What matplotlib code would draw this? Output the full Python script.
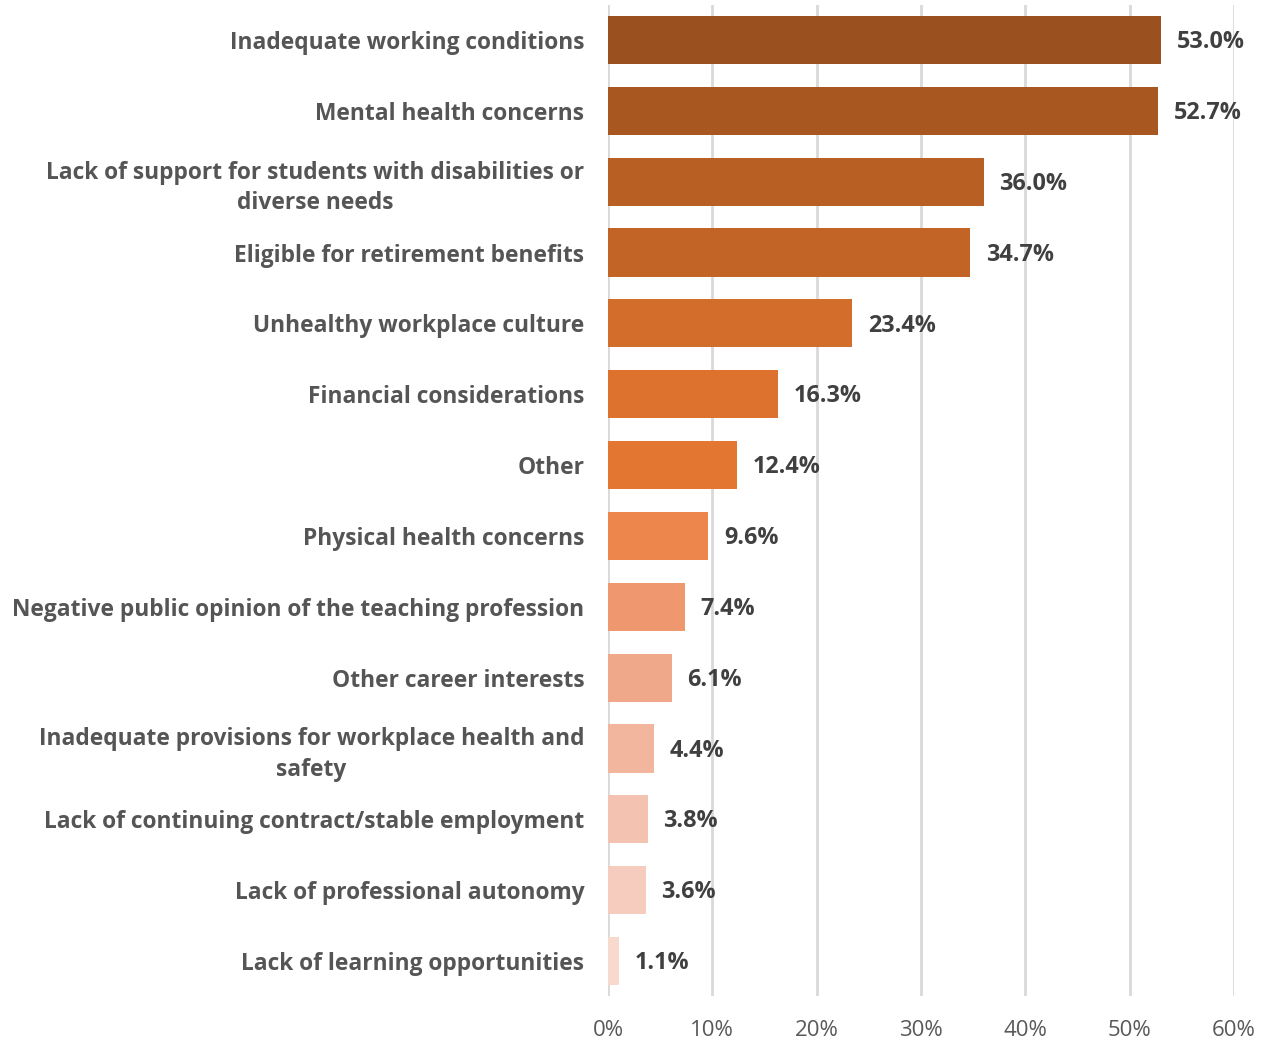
import matplotlib
matplotlib.use("Agg")
import matplotlib.pyplot as plt
from matplotlib.ticker import FuncFormatter, MultipleLocator

reasons = [
    "Inadequate working conditions",
    "Mental health concerns",
    "Lack of support for students with disabilities or\ndiverse needs",
    "Eligible for retirement benefits",
    "Unhealthy workplace culture",
    "Financial considerations",
    "Other",
    "Physical health concerns",
    "Negative public opinion of the teaching profession",
    "Other career interests",
    "Inadequate provisions for workplace health and\nsafety",
    "Lack of continuing contract/stable employment",
    "Lack of professional autonomy",
    "Lack of learning opportunities",
]
shares = [53.0, 52.7, 36.0, 34.7, 23.4, 16.3, 12.4, 9.6, 7.4, 6.1, 4.4, 3.8, 3.6, 1.1]
bar_colors = [
    "#9B501F", "#A85720", "#B86024", "#C16426", "#D26D2B", "#DC722D", "#E37731",
    "#EC864D", "#EF9870", "#F0A88A", "#F2B59E", "#F4C2B1", "#F6CCBE", "#F7D9CE",
]

plt.rcParams["font.family"] = ["Open Sans", "DejaVu Sans"]

fig = plt.figure(figsize=(12.68, 10.4), dpi=100)
ax = fig.add_axes([0.4795, 0.0419, 0.4937, 0.9537])

pos = list(range(len(reasons)))
ax.barh(pos, shares, height=0.68, color=bar_colors, zorder=3)

# value labels just past each bar end
for y, v in zip(pos, shares):
    ax.text(v + 1.5, y + 0.03, f"{v:.1f}%", va="center", ha="left",
            fontsize=16.8, fontweight="bold", color="#404040")

ax.set_xlim(0, 60)
ax.set_ylim(len(reasons) - 0.5, -0.5)
ax.xaxis.set_major_locator(MultipleLocator(10))
ax.xaxis.set_major_formatter(FuncFormatter(lambda x, _: f"{x:.0f}%"))
ax.set_yticks(pos)
ax.set_yticklabels(reasons, fontsize=16.4, fontweight="bold", color="#555555",
                   ha="right", multialignment="center", linespacing=1.35)

ax.grid(axis="x", color="#D9D9D9", linewidth=2, zorder=0)
for s in ax.spines.values():
    s.set_visible(False)
ax.tick_params(axis="y", length=0, pad=17)
ax.tick_params(axis="x", length=0, pad=17, labelsize=16, labelcolor="#595959")

fig.savefig("out.png", dpi=100)
